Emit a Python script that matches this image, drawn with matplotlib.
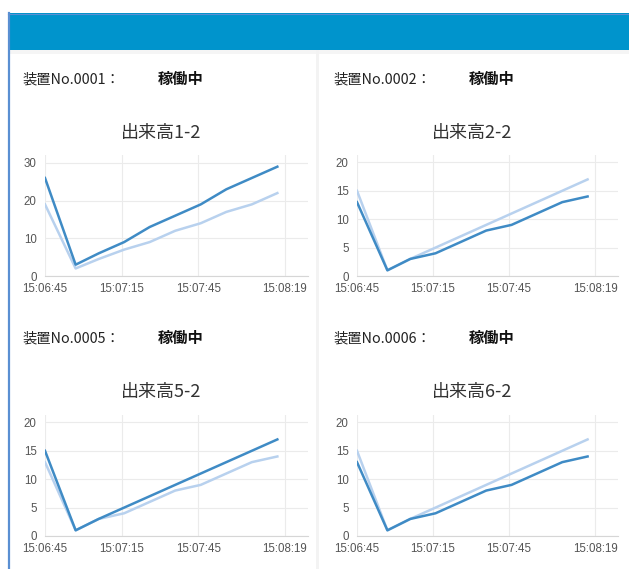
import numpy as np
import matplotlib.pyplot as plt
from matplotlib.patches import Rectangle
from matplotlib.lines import Line2D

# data (seconds after 15:06:45)
times = [0, 12, 21, 31, 41, 51, 61, 71, 81, 91]
tick_secs = [0, 30, 60, 94]
tick_labels = ["15:06:45", "15:07:15", "15:07:45", "15:08:19"]

device_names = ["装置No.0001：", "装置No.0002：", "装置No.0005：", "装置No.0006："]
status = "稼働中"
titles = ["出来高1-2", "出来高2-2", "出来高5-2", "出来高6-2"]

dark_1 = [26, 3, 6, 9, 13, 16, 19, 23, 26, 29]
light_1 = [19, 2, 4.5, 7, 9, 12, 14, 17, 19, 22]
dark_2 = [13, 1, 3, 4, 6, 8, 9, 11, 13, 14]
light_2 = [15, 1, 3, 5, 7, 9, 11, 13, 15, 17]
dark_5 = [15, 1, 3, 5, 7, 9, 11, 13, 15, 17]
light_5 = [13, 1, 3, 4, 6, 8, 9, 11, 13, 14]
dark_6 = [13, 1, 3, 4, 6, 8, 9, 11, 13, 14]
light_6 = [15, 1, 3, 5, 7, 9, 11, 13, 15, 17]

y_ticks = [[0, 10, 20, 30], [0, 5, 10, 15, 20], [0, 5, 10, 15, 20], [0, 5, 10, 15, 20]]
y_tops = [32.1, 21.3, 21.3, 21.3]

plt.rcParams['font.family'] = ['Noto Sans CJK JP', 'DejaVu Sans']

W, H = 629, 569
fig = plt.figure(figsize=(W / 100, H / 100), dpi=100)
fig.patch.set_facecolor('white')


def px_axes(x0, y0, x1, y1, **kw):
    # pixel box (top-left origin) -> figure axes
    return fig.add_axes([x0 / W, 1 - y1 / H, (x1 - x0) / W, (y1 - y0) / H], **kw)


# page background / header
bg = px_axes(0, 0, W, H)
bg.set_xlim(0, W)
bg.set_ylim(H, 0)
bg.axis('off')
bg.add_patch(Rectangle((8, 50), W - 8, 4, color='#f5f5f5', lw=0))
bg.add_patch(Rectangle((316, 50), 3, H - 50, color='#f3f3f3', lw=0))
bg.add_patch(Rectangle((8, 13), W - 8, 37, color='#0094cc', lw=0))
bg.add_line(Line2D([9, 9], [13, H], color='#5a8fd2', lw=1.6))
bg.add_line(Line2D([8, W], [13.5, 13.5], color='#5a8fd2', lw=0.8))

col_x = [22, 333]
row_y = [79, 338]
title_y = [133, 392]
title_cx = [161, 472]
plot_x = [(45, 308), (357, 618)]
plot_y = [(155, 276), (415, 536)]

series = [(dark_1, light_1), (dark_2, light_2), (dark_5, light_5), (dark_6, light_6)]
tick_font = ['Liberation Sans', 'DejaVu Sans']

for i in range(4):
    r, c = divmod(i, 2)
    bg.text(col_x[c], row_y[r], device_names[i], fontsize=10.3, color='#222222',
            va='center', ha='left')
    bg.text(col_x[c] + 136, row_y[r], status, fontsize=11, color='#111111',
            va='center', ha='left', fontweight='bold')
    bg.text(title_cx[c], title_y[r], titles[i], fontsize=13, color='#333333',
            va='center', ha='center')

    ax = px_axes(plot_x[c][0], plot_y[r][0], plot_x[c][1], plot_y[r][1])
    dark, light = series[i]
    ax.plot(times, light, color='#b8d1ee', lw=1.8, solid_joinstyle='round')
    ax.plot(times, dark, color='#3f8bc5', lw=1.8, solid_joinstyle='round')
    ax.set_xlim(0, 103)
    ax.set_ylim(0, y_tops[i])
    ax.set_xticks(tick_secs)
    ax.set_xticklabels(tick_labels, family=tick_font)
    ax.set_yticks(y_ticks[i])
    ax.set_yticklabels([str(v) for v in y_ticks[i]], family=tick_font)
    ax.tick_params(length=0, labelsize=8.3, labelcolor='#555555', pad=5)
    ax.tick_params(axis='y', pad=6)
    ax.grid(True, color='#ebebeb', lw=0.8)
    ax.set_axisbelow(True)
    for side in ['top', 'right', 'left']:
        ax.spines[side].set_visible(False)
    ax.spines['bottom'].set_color('#d6d6d6')
    ax.spines['bottom'].set_linewidth(0.8)
    ax.set_facecolor('none')

fig.savefig('out.png', dpi=100)
